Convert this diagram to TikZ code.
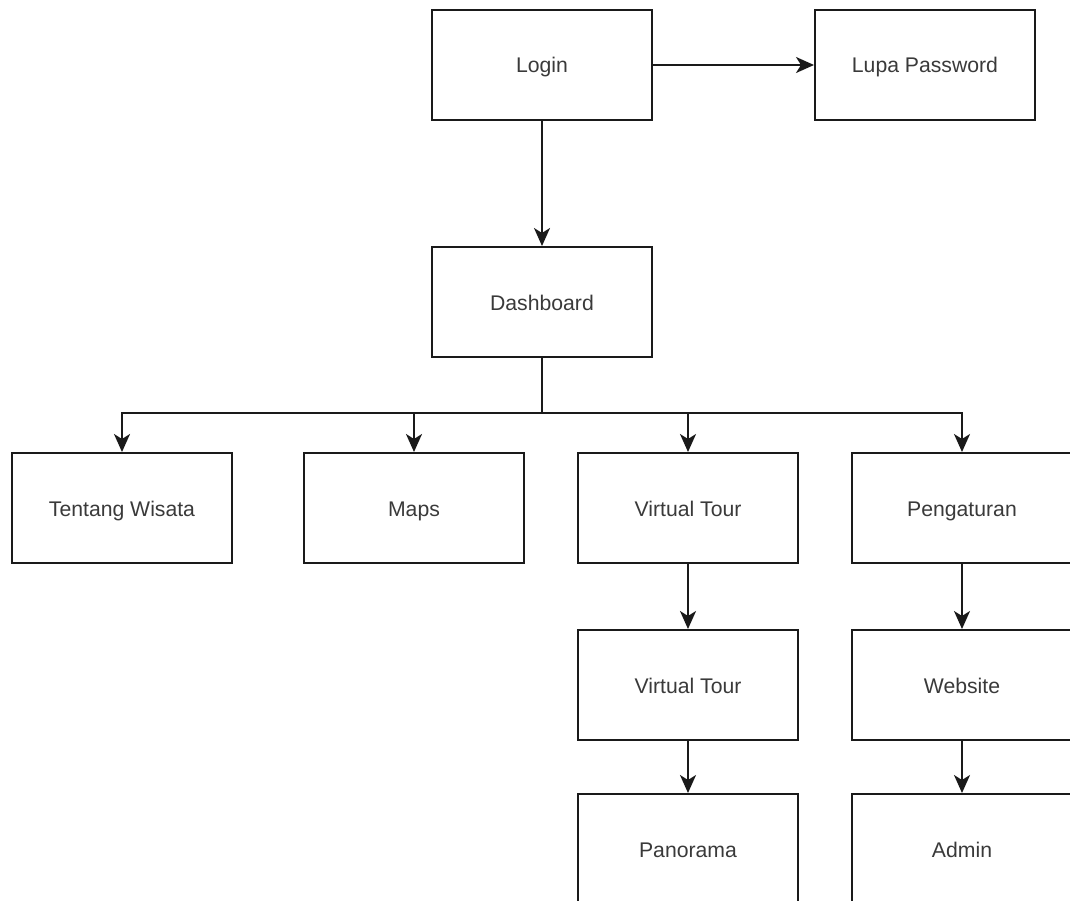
\documentclass[tikz,border=0pt]{standalone}
\usepackage{fontspec}
\setmainfont{Liberation Sans}
\usetikzlibrary{arrows.meta}
\definecolor{textgray}{HTML}{3A3A3A}
\definecolor{linegray}{HTML}{1A1A1A}
\begin{document}
\begin{tikzpicture}[x=1pt,y=-1pt,
  menubox/.style={draw=linegray, line width=2pt, fill=white, minimum width=220pt,
    minimum height=110pt, inner sep=0pt, text=textgray,
    text height=17pt, text depth=1pt,
    font=\fontsize{21.2}{26}\selectfont},
  link/.style={draw=linegray, line width=2pt,
    -{Stealth[length=18pt,width=16pt,inset=5pt]}}]
  \clip (0,0) rectangle (1070,901);
  \fill[white] (0,0) rectangle (1070,901);

  % top level
  \node[menubox] (login) at (542,65) {Login};
  \node[menubox] (lupa) at (925,65) {Lupa Password};
  \node[menubox] (dash) at (542,302) {Dashboard};

  % main menu
  \node[menubox] (tentang) at (122,508) {Tentang Wisata};
  \node[menubox] (maps) at (414,508) {Maps};
  \node[menubox] (vtour) at (688,508) {Virtual Tour};
  \node[menubox] (atur) at (962,508) {Pengaturan};

  % sub menus
  \node[menubox] (vtour2) at (688,685) {Virtual Tour};
  \node[menubox] (web) at (962,685) {Website};
  \node[menubox] (pano) at (688,849) {Panorama};
  \node[menubox] (admin) at (962,849) {Admin};

  \draw[link] (login) -- (lupa);
  \draw[link] (login) -- (dash);

  \foreach \child in {tentang,maps,vtour,atur}
    \draw[link] (dash.south) -- ++(0,55) -| (\child.north);

  \draw[link] (vtour) -- (vtour2);
  \draw[link] (vtour2) -- (pano);
  \draw[link] (atur) -- (web);
  \draw[link] (web) -- (admin);
\end{tikzpicture}
\end{document}
